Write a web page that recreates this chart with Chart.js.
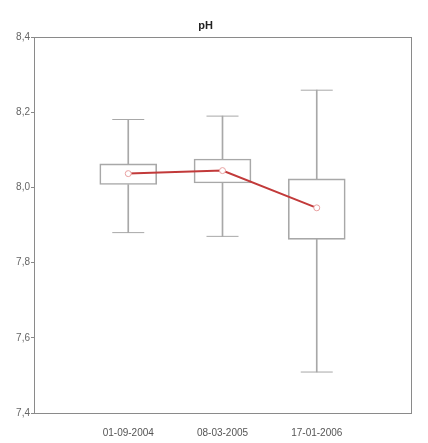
<!DOCTYPE html>
<html>
<head>
<meta charset="utf-8">
<script src="https://cdn.jsdelivr.net/npm/chart.js@4"></script>
<style>
  html, body { margin: 0; padding: 0; background: #fff; }
  #wrap { width: 428px; height: 443px; }
</style>
</head>
<body>
<div id="wrap"><canvas id="c" width="428" height="443"></canvas></div>
<script>
const categories = ['01-09-2004', '08-03-2005', '17-01-2006'];
const minValues  = [7.880, 7.870, 7.509];
const q1Values   = [8.008, 8.012, 7.862];
const q3Values   = [8.063, 8.076, 8.023];
const maxValues  = [8.181, 8.190, 8.259];
const meanValues = [8.037, 8.045, 7.946];
const yTickLabels = ['7,4', '7,6', '7,8', '8,0', '8,2', '8,4'];

// padded category axis: empty slots at each end
const labels = [''].concat(categories, ['']);
const pad = arr => [null].concat(arr, [null]);

const boxData = pad(categories.map((c, i) => [q1Values[i], q3Values[i]]));
const lowWhisker = pad(categories.map((c, i) => [minValues[i], q1Values[i]]));
const highWhisker = pad(categories.map((c, i) => [q3Values[i], maxValues[i]]));
const capsLow = pad(minValues);
const capsHigh = pad(maxValues);

const gray = '#a8a8a8';
const font = 'Liberation Sans, Arial, sans-serif';

const frame = {
  id: 'frame',
  afterDatasetsDraw(chart) {
    const a = chart.chartArea, ctx = chart.ctx;
    ctx.save();
    ctx.strokeStyle = '#8a8a8a';
    ctx.lineWidth = 1;
    ctx.strokeRect(Math.round(a.left) + 0.5, Math.round(a.top) + 0.5,
                   Math.round(a.right - a.left), Math.round(a.bottom - a.top));
    ctx.restore();
  }
};

new Chart(document.getElementById('c'), {
  data: {
    labels: labels,
    datasets: [
      { type: 'line', data: pad(meanValues), borderColor: '#c23a3a', borderWidth: 2,
        pointRadius: 3, pointBackgroundColor: '#fff', pointBorderColor: '#e8a0a0',
        pointBorderWidth: 1, spanGaps: false, order: 0 },
      { type: 'bar', data: boxData, backgroundColor: 'rgba(255,255,255,0)', borderColor: gray,
        borderWidth: 1, borderSkipped: false, barThickness: 57, grouped: false, order: 2 },
      { type: 'bar', data: lowWhisker, backgroundColor: gray, borderWidth: 0,
        barThickness: 1, grouped: false, order: 3 },
      { type: 'bar', data: highWhisker, backgroundColor: gray, borderWidth: 0,
        barThickness: 1, grouped: false, order: 3 },
      { type: 'line', data: capsLow, showLine: false, pointStyle: 'line', pointRadius: 16,
        pointBorderColor: gray, pointBorderWidth: 1, order: 1 },
      { type: 'line', data: capsHigh, showLine: false, pointStyle: 'line', pointRadius: 16,
        pointBorderColor: gray, pointBorderWidth: 1, order: 1 }
    ]
  },
  options: {
    responsive: false,
    animation: false,
    events: [],
    layout: { padding: { left: 0, right: 17, top: 0, bottom: 0 } },
    plugins: {
      legend: { display: false },
      tooltip: { enabled: false },
      title: {
        display: true, text: 'pH', color: '#222',
        font: { family: font, size: 11, weight: 'bold' },
        padding: { top: 19, bottom: 5 }
      }
    },
    scales: {
      x: {
        type: 'category', offset: false,
        grid: { display: false },
        border: { display: false },
        ticks: {
          color: '#555', padding: 6, maxRotation: 0, autoSkip: false,
          font: { family: font, size: 10 }
        },
        afterFit(s) { s.height = 30; }
      },
      y: {
        min: 7.4, max: 8.4,
        grid: { display: true, drawOnChartArea: false, drawTicks: true, tickLength: 3, color: '#888' },
        border: { display: false },
        ticks: {
          stepSize: 0.2, padding: 1, color: '#666',
          font: { family: font, size: 10 },
          callback: (v, i) => yTickLabels[i]
        },
        afterFit(s) { s.width = 34; }
      }
    }
  },
  plugins: [frame]
});
</script>
</body>
</html>
